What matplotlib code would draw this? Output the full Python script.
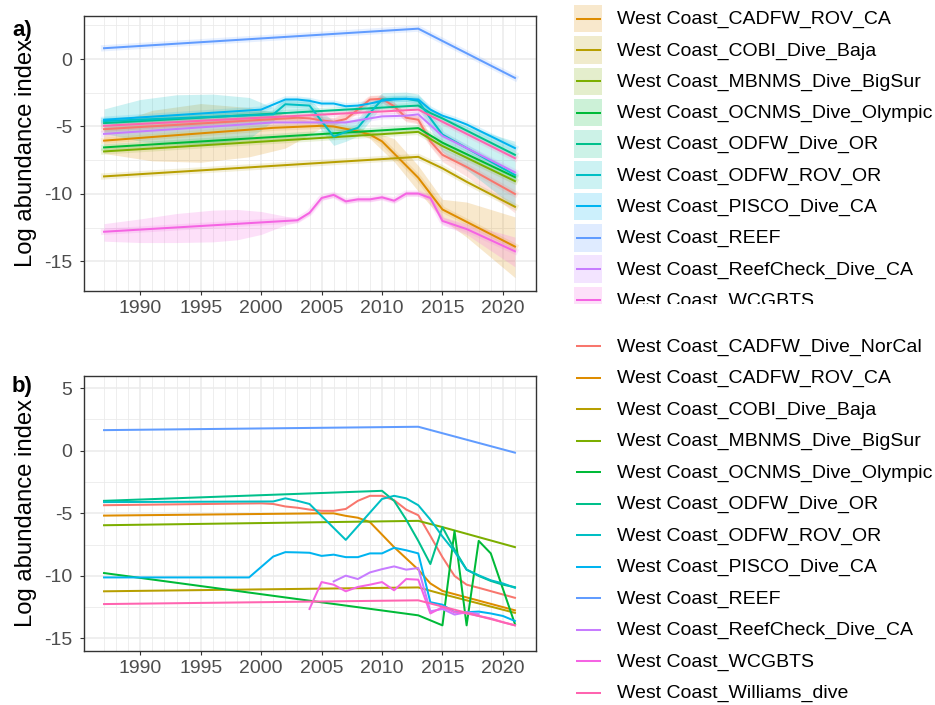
import numpy as np
import matplotlib
matplotlib.use("Agg")
import matplotlib.pyplot as plt
from matplotlib.patches import Rectangle

plt.rcParams['font.family'] = ['Liberation Sans', 'DejaVu Sans']
plt.rcParams['axes.unicode_minus'] = False

surveys = ["West Coast_CADFW_Dive_NorCal", "West Coast_CADFW_ROV_CA",
           "West Coast_COBI_Dive_Baja", "West Coast_MBNMS_Dive_BigSur",
           "West Coast_OCNMS_Dive_Olympic", "West Coast_ODFW_Dive_OR",
           "West Coast_ODFW_ROV_OR", "West Coast_PISCO_Dive_CA",
           "West Coast_REEF", "West Coast_ReefCheck_Dive_CA",
           "West Coast_WCGBTS", "West Coast_Williams_dive"]
colors = ["#F8766D", "#DE8C00", "#B79F00", "#7CAE00", "#00BA38", "#00C08B",
          "#00BFC4", "#00B4F0", "#619CFF", "#C77CFF", "#F564E3", "#FF64B0"]

# ---- panel a) smoothed log indices: (years, values)
a_norcal = ([1987, 2003, 2004, 2005, 2006, 2007, 2008, 2009, 2010, 2011, 2012, 2013, 2014, 2015, 2017, 2021],
            [-5.2, -4.35, -4.4, -4.55, -4.65, -4.45, -3.75, -3.0, -2.95, -3.5, -4.35, -4.5, -6.1, -7.1, -8.0, -10.0])
a_rov_ca = ([1987, 2001, 2005, 2006, 2008, 2009, 2010, 2013, 2015, 2021],
            [-6.05, -5.1, -4.95, -5.0, -5.35, -5.6, -6.1, -8.8, -11.15, -13.9])
a_cobi = ([1987, 2013, 2015, 2017, 2021], [-8.7, -7.25, -8.1, -9.1, -10.95])
a_mbnms = ([1987, 2013, 2015, 2021], [-6.85, -5.4, -6.45, -9.05])
a_ocnms = ([1987, 2013, 2015, 2021], [-6.55, -5.12, -6.2, -8.75])
a_odfw_dive = ([1987, 2013, 2014, 2015, 2021], [-4.75, -3.45, -4.0, -4.4, -7.1])
a_odfw_rov = ([1987, 2001, 2002, 2003, 2004, 2005, 2006, 2007, 2008, 2009, 2010, 2011, 2012, 2013, 2014, 2015, 2021],
              [-4.6, -4.1, -3.35, -3.4, -3.45, -4.6, -5.75, -5.4, -5.1, -4.0, -3.0, -2.95, -2.95, -3.1, -4.4, -5.6, -8.6])
a_pisco = ([1987, 2000, 2002, 2003, 2004, 2005, 2006, 2007, 2008, 2009, 2010, 2011, 2012, 2013, 2014, 2015, 2016, 2017, 2021],
           [-4.5, -3.75, -3.0, -3.0, -3.1, -3.3, -3.3, -3.5, -3.45, -3.3, -3.1, -3.0, -2.95, -3.0, -3.75, -4.2, -4.5, -4.85, -6.6])
a_reef = ([1987, 2013, 2021], [0.8, 2.25, -1.4])
a_reefcheck = ([1987, 2001, 2005, 2007, 2008, 2009, 2010, 2012, 2013, 2015, 2021],
               [-5.55, -4.7, -4.7, -4.7, -4.55, -4.4, -4.25, -4.2, -4.1, -5.7, -8.4])
a_wcgbts = ([1987, 2003, 2004, 2005, 2006, 2007, 2008, 2009, 2010, 2011, 2012, 2013, 2014, 2015, 2017, 2021],
            [-12.8, -11.95, -11.4, -10.3, -10.07, -10.55, -10.4, -10.4, -10.25, -10.5, -9.97, -9.97, -10.3, -12.0, -12.6, -14.25])
a_williams = ([1987, 2013, 2015, 2021], [-4.95, -3.75, -4.65, -7.35])

# confidence ribbons in panel a): (years, upper, lower)
a_norcal_ci = ([1987, 2002, 2004, 2006, 2008, 2009, 2010, 2011, 2012, 2013, 2014, 2015, 2017, 2021],
               [-5.05, -4.2, -4.1, -4.35, -3.5, -2.7, -2.65, -3.2, -4.05, -4.2, -5.7, -6.6, -7.4, -8.9],
               [-5.35, -4.5, -4.7, -4.95, -4.0, -3.3, -3.25, -3.8, -4.65, -4.8, -6.5, -7.6, -8.7, -11.4])
a_rov_ca_ci = ([1987, 1991, 1995, 1999, 2002, 2004, 2005, 2008, 2009, 2011, 2013, 2015, 2017, 2021],
               [-5.0, -3.8, -3.3, -3.6, -4.1, -4.6, -4.8, -5.15, -5.3, -5.9, -7.9, -10.4, -10.6, -11.7],
               [-7.0, -7.55, -7.65, -7.25, -6.6, -5.6, -5.1, -5.55, -5.9, -7.6, -9.8, -11.9, -13.2, -16.2])
a_odfw_rov_ci = ([1987, 1990, 1993, 1996, 1999, 2001, 2002, 2004, 2005, 2006, 2007, 2008, 2009, 2010, 2012, 2013, 2014, 2015, 2017, 2021],
                 [-3.7, -3.0, -2.65, -2.6, -2.85, -3.6, -2.9, -2.9, -3.9, -4.6, -4.6, -4.4, -3.4, -2.5, -2.45, -2.6, -3.6, -4.3, -5.0, -6.1],
                 [-5.5, -6.1, -6.3, -6.3, -5.9, -4.6, -3.8, -3.9, -5.3, -6.4, -6.1, -5.7, -4.6, -3.5, -3.45, -3.6, -5.2, -6.9, -8.2, -11.0])
a_wcgbts_ci = ([1987, 1990, 1993, 1996, 1998, 2000, 2002, 2003, 2004, 2005, 2006, 2007, 2008, 2009, 2010, 2011, 2012, 2013, 2014, 2015, 2017, 2021],
               [-12.2, -11.85, -11.45, -11.2, -11.15, -11.3, -11.65, -11.8, -11.25, -10.15, -9.9, -10.4, -10.25, -10.25, -10.1, -10.35, -9.8, -9.8, -10.1, -11.7, -12.2, -13.2],
               [-13.5, -13.6, -13.6, -13.55, -13.4, -13.0, -12.3, -12.1, -11.55, -10.45, -10.25, -10.7, -10.55, -10.55, -10.4, -10.65, -10.15, -10.15, -10.5, -12.3, -13.0, -15.4])

# ---- panel b) raw log indices: (years, values)
b_norcal = ([1987, 2000, 2001, 2002, 2003, 2004, 2005, 2006, 2007, 2008, 2009, 2010, 2011, 2012, 2013, 2014, 2015, 2016, 2017, 2018, 2021],
            [-4.35, -4.2, -4.25, -4.45, -4.55, -4.7, -4.8, -4.8, -4.65, -4.0, -3.6, -3.6, -3.95, -4.7, -5.15, -6.8, -8.5, -10.0, -10.7, -10.95, -11.75])
b_rov_ca = ([1987, 2000, 2005, 2006, 2007, 2008, 2009, 2010, 2011, 2012, 2013, 2014, 2015, 2021],
            [-5.18, -5.05, -5.0, -5.0, -5.2, -5.35, -5.7, -6.7, -7.7, -8.6, -9.5, -10.6, -11.2, -12.75])
b_cobi = ([1987, 2013, 2015, 2021], [-11.23, -10.92, -11.45, -12.95])
b_mbnms = ([1987, 2013, 2015, 2021], [-5.95, -5.6, -6.1, -7.7])
b_ocnms = ([1987, 2013, 2015, 2016, 2017, 2018, 2019, 2021],
           [-9.77, -13.15, -13.95, -6.4, -13.95, -7.2, -8.2, -13.85])
b_odfw_dive = ([1987, 2010, 2011, 2012, 2013, 2014, 2015, 2016, 2017, 2018, 2019, 2020, 2021],
               [-4.0, -3.2, -4.0, -5.5, -7.2, -9.05, -6.1, -7.9, -9.5, -10.0, -10.4, -10.7, -10.9])
b_odfw_rov = ([1987, 2001, 2002, 2003, 2004, 2007, 2010, 2011, 2012, 2013, 2014, 2015, 2016, 2017, 2018, 2019, 2020, 2021],
              [-4.1, -4.05, -3.8, -4.0, -4.25, -7.12, -3.85, -3.6, -3.8, -4.35, -5.5, -6.85, -8.05, -9.5, -9.95, -10.35, -10.6, -10.95])
b_pisco = ([1987, 1999, 2001, 2002, 2003, 2004, 2005, 2006, 2007, 2008, 2009, 2010, 2011, 2012, 2013, 2014, 2015, 2016, 2017, 2018, 2019, 2020, 2021],
           [-10.12, -10.12, -8.45, -8.1, -8.12, -8.15, -8.4, -8.3, -8.5, -8.5, -8.2, -8.2, -7.75, -7.95, -8.2, -12.1, -12.3, -12.9, -12.9, -12.85, -13.0, -13.2, -13.6])
b_reef = ([1987, 2013, 2021], [1.65, 1.92, -0.15])
b_reefcheck = ([2006, 2007, 2008, 2009, 2010, 2011, 2012, 2013, 2014, 2015, 2016, 2017, 2018],
               [-10.44, -9.98, -10.25, -9.72, -9.46, -9.24, -9.5, -9.37, -12.83, -12.64, -13.09, -12.9, -13.05])
b_wcgbts = ([2004, 2005, 2006, 2007, 2008, 2009, 2010, 2011, 2012, 2013, 2014, 2015, 2016, 2017, 2018, 2019, 2020, 2021],
            [-12.64, -10.49, -10.7, -11.23, -10.88, -10.7, -10.49, -11.15, -10.25, -10.3, -13.0, -12.5, -12.9, -13.0, -13.2, -13.4, -13.7, -13.95])
b_williams = ([1987, 2013, 2014, 2015, 2021], [-12.25, -11.95, -12.2, -12.45, -13.95])

panel_a = [a_norcal, a_rov_ca, a_cobi, a_mbnms, a_ocnms, a_odfw_dive,
           a_odfw_rov, a_pisco, a_reef, a_reefcheck, a_wcgbts, a_williams]
ribbons_a = {0: a_norcal_ci, 1: a_rov_ca_ci, 6: a_odfw_rov_ci, 10: a_wcgbts_ci}
panel_b = [b_norcal, b_rov_ca, b_cobi, b_mbnms, b_ocnms, b_odfw_dive,
           b_odfw_rov, b_pisco, b_reef, b_reefcheck, b_wcgbts, b_williams]

W, H = 935, 705
fig = plt.figure(figsize=(W / 100, H / 100), dpi=100)


def px_axes(x0, y0, x1, y1):
    # axes placed by pixel box (top-left origin)
    return fig.add_axes([x0 / W, 1 - y1 / H, (x1 - x0) / W, (y1 - y0) / H])


def style(ax, ylim, yticks, yminor):
    ax.set_xlim(1985.3, 2022.7)
    ax.set_ylim(*ylim)
    ax.set_xticks(range(1990, 2021, 5))
    ax.set_xticks(range(1987, 2022), minor=True)
    ax.set_yticks(yticks)
    ax.set_yticks(yminor, minor=True)
    ax.grid(which='major', color='#EBEBEB', lw=1.1)
    ax.grid(which='minor', color='#EBEBEB', lw=0.6)
    ax.set_axisbelow(True)
    ax.tick_params(which='major', length=2.75, width=0.8, color='#333333',
                   labelsize=14, labelcolor='#4D4D4D')
    ax.tick_params(axis='x', pad=4)
    ax.tick_params(axis='y', pad=5.5)
    ax.tick_params(which='minor', length=0)
    for s in ax.spines.values():
        s.set_color('#333333')
        s.set_linewidth(1.0)


ax_a = px_axes(83.5, 15.7, 535.5, 290.7)
ax_b = px_axes(83.5, 375.7, 535.5, 651)

# panel a: ribbons, halos, then lines
for i, (yrs, vals) in enumerate(panel_a):
    if i in ribbons_a:
        ryrs, up, lo = ribbons_a[i]
        ax_a.fill_between(ryrs, lo, up, color=colors[i], alpha=0.2, lw=0)
    ax_a.plot(yrs, vals, color=colors[i], lw=4.5, alpha=0.15, solid_joinstyle='round')
for i, (yrs, vals) in enumerate(panel_a):
    ax_a.plot(yrs, vals, color=colors[i], lw=1.45)
style(ax_a, (-17.17, 3.21), [-15, -10, -5, 0], [-12.5, -7.5, -2.5, 2.5])

for i, (yrs, vals) in enumerate(panel_b):
    ax_b.plot(yrs, vals, color=colors[i], lw=1.45)
style(ax_b, (-16, 6), [-15, -10, -5, 0, 5], [-12.5, -7.5, -2.5, 2.5])

# tags and axis titles
fig.text(12 / W, 1 - 36 / H, 'a)', fontsize=16, fontweight='bold', va='baseline')
fig.text(12 / W, 1 - 392 / H, 'b)', fontsize=16, fontweight='bold', va='baseline')
fig.text(26 / W, 1 - 153.2 / H, 'Log abundance index', rotation=90, fontsize=17.2,
         ha='center', va='center')
fig.text(26 / W, 1 - 513.4 / H, 'Log abundance index', rotation=90, fontsize=17.2,
         ha='center', va='center')


def draw_legend(box, centers, filled):
    lax = px_axes(*box)
    lax.set_xlim(box[0], box[2])
    lax.set_ylim(box[3], box[1])
    lax.axis('off')
    for name, col, cy in zip(surveys, colors, centers):
        # entries that fall wholly outside the legend area are cut off
        if cy + 12 < box[1] or cy - 12 > box[3]:
            continue
        if filled:
            lax.add_patch(Rectangle((574, cy - 13.8), 28, 27.6, facecolor=col,
                                    alpha=0.2, edgecolor='none', clip_on=True))
        lax.plot([575.5, 601], [cy, cy], color=col, lw=1.45, clip_on=True,
                 solid_capstyle='butt')
        lax.text(616.7, cy + 1, name, fontsize=14, va='center', ha='left',
                 color='black', clip_on=True)


draw_legend((560, 0, 935, 304), [18.7 + (i - 1) * 31.3 for i in range(12)], True)
draw_legend((560, 330, 935, 705), [346 + i * 31.5 for i in range(12)], False)

fig.savefig('out.png', dpi=100)
